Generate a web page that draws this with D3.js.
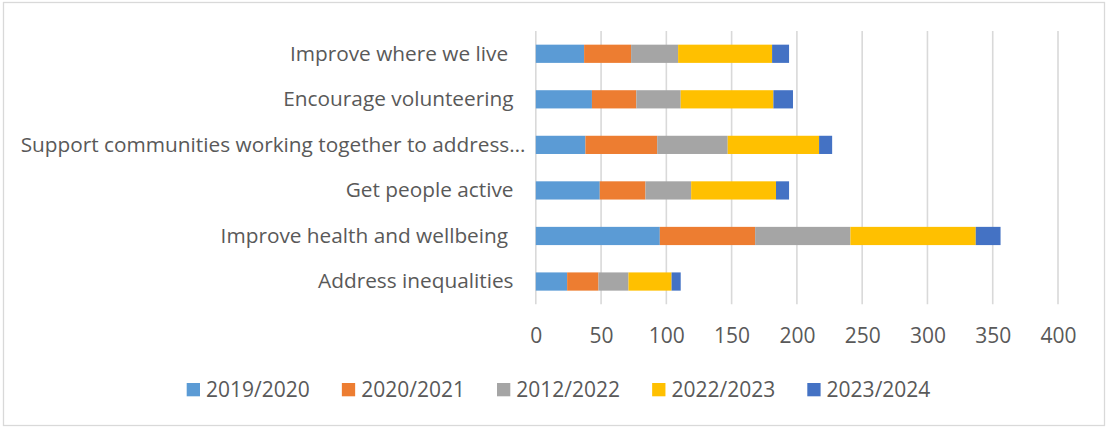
<!DOCTYPE html>
<html>
<head>
<meta charset="utf-8">
<script src="https://cdn.jsdelivr.net/npm/d3@7"></script>
<style>
  html, body { margin: 0; padding: 0; background: #fff; }
  svg { display: block; font-family: "Open Sans", Lato, sans-serif; }
  text { white-space: pre; }
</style>
</head>
<body>
<svg id="chart" width="1106" height="427"></svg>
<script>
// Categories, top to bottom
const categories = [
  "Improve where we live ",
  "Encourage volunteering",
  "Support communities working together to address…",
  "Get people active",
  "Improve health and wellbeing ",
  "Address inequalities"
];

// Series labels (as entered in the source workbook)
const seriesNames = ["2019/2020", "2020/2021", "2012/2022", "2022/2023", "2023/2024"];
const seriesColors = ["#5B9BD5", "#ED7D31", "#A5A5A5", "#FFC000", "#4472C4"];

// Values per series, in category order
const s2019 = [37, 43, 38, 49, 95, 24];
const s2020 = [36, 34, 55, 35, 73, 24];
const s2021 = [36, 34, 54, 35, 73, 23];
const s2022 = [72, 71, 70, 65, 96, 33];
const s2023 = [13, 15, 10, 10, 19, 7];

const xTicks = [0, 50, 100, 150, 200, 250, 300, 350, 400];

const seriesValues = [s2019, s2020, s2021, s2022, s2023];
const rows = categories.map((c, i) => {
  const r = { category: c };
  seriesNames.forEach((s, j) => r[s] = seriesValues[j][i]);
  return r;
});

const svg = d3.select("#chart");
const textColor = "#595959";
const gridColor = "#D9D9D9";

// Outer chart frame
svg.append("rect")
  .attr("x", 3.5).attr("y", 2.5)
  .attr("width", 1101).attr("height", 423)
  .attr("fill", "#fff").attr("stroke", gridColor).attr("stroke-width", 1.3);

const x = d3.scaleLinear().domain([0, 400]).range([535.8, 1058]);
const y = d3.scaleBand().domain(categories).range([31, 304.3])
  .paddingInner(0.6).paddingOuter(0.3);

// Vertical gridlines (the zero line doubles as the category axis)
svg.append("g").selectAll("line").data(xTicks).join("line")
  .attr("x1", d => x(d)).attr("x2", d => x(d))
  .attr("y1", 31).attr("y2", 304.3)
  .attr("stroke", gridColor).attr("stroke-width", 1.6);

// Stacked bars
const stack = d3.stack().keys(seriesNames)(rows);
svg.append("g").selectAll("g").data(stack).join("g")
  .attr("fill", (d, i) => seriesColors[i])
  .selectAll("rect").data(d => d).join("rect")
  .attr("x", d => x(d[0]))
  .attr("width", d => x(d[1]) - x(d[0]))
  .attr("y", d => y(d.data.category))
  .attr("height", y.bandwidth());

// Value axis tick labels
const xAxis = svg.append("g").attr("transform", "translate(0,343.3)")
  .call(d3.axisBottom(x).tickValues(xTicks).tickSize(0).tickPadding(0));
xAxis.select(".domain").remove();
xAxis.selectAll("text")
  .attr("y", 0).attr("dy", 0)
  .attr("fill", textColor)
  .style("font-family", "'Open Sans', sans-serif")
  .style("font-size", "21px");

// Category labels, right-aligned; labels wider than the column start at its left edge
const labelRight = 513.5, labelLeft = 20.7;
const labels = svg.append("g").selectAll("text").data(categories).join("text")
  .attr("x", labelRight)
  .attr("y", d => y(d) + y.bandwidth() / 2)
  .attr("dy", "0.33em")
  .attr("text-anchor", "end")
  .attr("fill", textColor)
  .style("font-size", "20.8px")
  .text(d => d);
labels.each(function () {
  const w = this.getComputedTextLength();
  if (w > labelRight - labelLeft) {
    d3.select(this).attr("x", labelLeft).attr("text-anchor", "start");
  }
});

// Legend
const legend = svg.append("g").selectAll("g").data(seriesNames).join("g")
  .attr("transform", (d, i) => `translate(${186.7 + i * 155.15},0)`);
legend.append("rect")
  .attr("x", 0).attr("y", 383).attr("width", 13.3).attr("height", 13.3)
  .attr("fill", (d, i) => seriesColors[i]);
legend.append("text")
  .attr("x", 19.3).attr("y", 396.7)
  .attr("fill", textColor)
  .style("font-size", "21px")
  .text(d => d);
</script>
</body>
</html>
